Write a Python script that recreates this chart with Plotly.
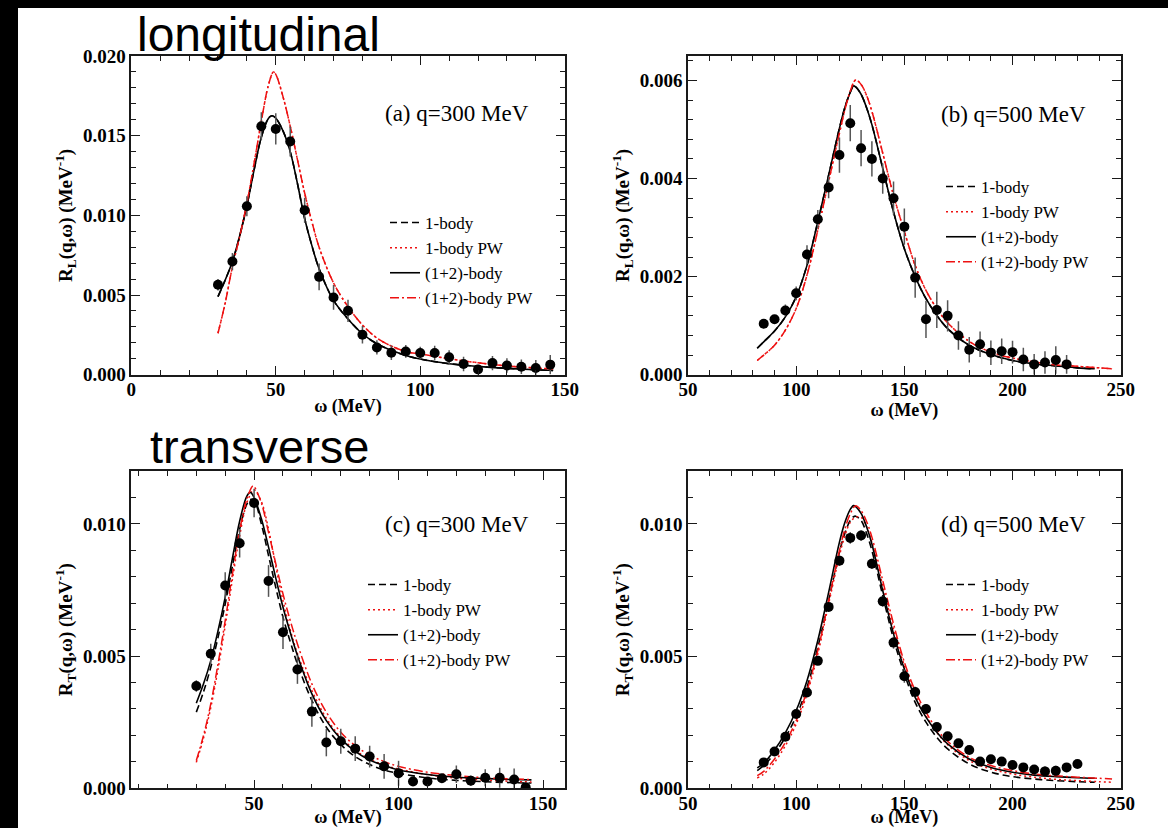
import plotly.graph_objects as go

W, H = 1168, 828

# ---------------- Panel (a): R_L, q = 300 MeV ----------------
a_omega = [30, 35, 40, 45, 50, 55, 60, 65, 70, 75, 80, 85, 90, 95, 100, 105, 110, 115, 120, 125, 130, 135, 140, 145]
a_R = [0.00564, 0.00710, 0.01057, 0.01559, 0.01542, 0.01463, 0.01032, 0.00614, 0.00485, 0.00401, 0.00251, 0.00171,
       0.00138, 0.00146, 0.00136, 0.00136, 0.00109, 0.00067, 0.00033, 0.00073, 0.00058, 0.00050, 0.00042, 0.00063]
a_err = [0.00036, 0.00054, 0.00063, 0.00088, 0.00098, 0.00094, 0.00078, 0.00084, 0.00078, 0.00070, 0.00055, 0.00045,
         0.00045, 0.00040, 0.00040, 0.00045, 0.00045, 0.00045, 0.00030, 0.00045, 0.00045, 0.00045, 0.00050, 0.00060]
a_th_omega = [30, 32.5, 35, 37.5, 40, 42.5, 45, 47.5, 48.7, 50, 52.5, 55, 57.5, 60, 62.5, 65, 70, 75, 80, 85, 90, 95,
              100, 110, 120, 130, 140, 146]
a_12body = [0.00490, 0.00594, 0.00710, 0.00870, 0.01060, 0.01285, 0.01490, 0.01610, 0.01625, 0.01610, 0.01530, 0.01400,
            0.01200, 0.00980, 0.00810, 0.00665, 0.00466, 0.00350, 0.00257, 0.00194, 0.00153, 0.00121, 0.00098, 0.00069,
            0.00052, 0.00040, 0.00031, 0.00027]
a_1body = a_12body  # identical in the longitudinal channel
a_pw_omega = [30, 32.5, 35, 37.5, 40, 42.5, 45, 47.5, 49.2, 50, 52.5, 55, 57.5, 60, 62.5, 65, 70, 75, 80, 85, 90, 95,
              100, 105, 110, 120, 130, 140, 146]
a_12body_pw = [0.00260, 0.00450, 0.00678, 0.00866, 0.01076, 0.01327, 0.01590, 0.01820, 0.01900, 0.01885, 0.01745,
               0.01560, 0.01350, 0.01140, 0.00960, 0.00800, 0.00576, 0.00427, 0.00312, 0.00230, 0.00180, 0.00146,
               0.00130, 0.00115, 0.00100, 0.00075, 0.00055, 0.00042, 0.00036]
a_1body_pw = a_12body_pw

# ---------------- Panel (b): R_L, q = 500 MeV ----------------
b_omega = [85, 90, 95, 100, 105, 110, 115, 120, 125, 130, 135, 140, 145, 150, 155, 160, 165, 170, 175, 180, 185, 190,
           195, 200, 205, 210, 215, 220, 225]
b_R = [0.00104, 0.00113, 0.00131, 0.00166, 0.00245, 0.00317, 0.00382, 0.00448, 0.00513, 0.00462, 0.00440, 0.00400,
       0.00360, 0.00302, 0.00198, 0.00113, 0.00132, 0.00120, 0.00080, 0.00051, 0.00062, 0.00045, 0.00048, 0.00046,
       0.00031, 0.00021, 0.00025, 0.00030, 0.00021]
b_err = [0.00005, 0.00005, 0.00012, 0.00014, 0.00019, 0.00019, 0.00022, 0.00036, 0.00037, 0.00037, 0.00036, 0.00031,
         0.00034, 0.00037, 0.00041, 0.00038, 0.00037, 0.00032, 0.00029, 0.00026, 0.00026, 0.00025, 0.00026, 0.00023,
         0.00024, 0.00021, 0.00023, 0.00028, 0.00019]
b_th_omega = [82, 85, 90, 95, 100, 105, 110, 115, 120, 122.5, 125, 126.5, 127.5, 130, 132.5, 135, 140, 145, 150, 155,
              160, 165, 170, 180, 190, 200, 210, 220, 230, 238]
b_12body = [0.00054, 0.00067, 0.00089, 0.00118, 0.00159, 0.00223, 0.00312, 0.00407, 0.00503, 0.00545, 0.00576,
            0.00589, 0.00587, 0.00572, 0.00545, 0.00510, 0.00421, 0.00332, 0.00257, 0.00200, 0.00155, 0.00121,
            0.00094, 0.00060, 0.00041, 0.00029, 0.00022, 0.00018, 0.00014, 0.00012]
b_1body = b_12body
b_pw_omega = [82, 85, 90, 95, 100, 105, 110, 115, 120, 122.5, 125, 127.5, 130, 132.5, 135, 140, 145, 150, 155, 160,
              165, 170, 180, 190, 200, 210, 220, 230, 240, 246]
b_12body_pw = [0.00029, 0.00040, 0.00060, 0.00091, 0.00135, 0.00203, 0.00295, 0.00394, 0.00493, 0.00540, 0.00578,
               0.00601, 0.00592, 0.00570, 0.00537, 0.00452, 0.00366, 0.00292, 0.00223, 0.00172, 0.00135, 0.00106,
               0.00068, 0.00046, 0.00034, 0.00026, 0.00020, 0.00017, 0.00014, 0.00012]
b_1body_pw = b_12body_pw

# ---------------- Panel (c): R_T, q = 300 MeV ----------------
c_omega = [30, 35, 40, 45, 50, 55, 60, 65, 70, 75, 80, 85, 90, 95, 100, 105, 110, 115, 120, 125, 130, 135, 140, 144]
c_R = [0.00387, 0.00509, 0.00767, 0.00927, 0.01079, 0.00784, 0.00590, 0.00449, 0.00290, 0.00173, 0.00178, 0.00150,
       0.00120, 0.00083, 0.00057, 0.00026, 0.00026, 0.00038, 0.00053, 0.00029, 0.00040, 0.00040, 0.00033, 0.00004]
c_err = [0.00022, 0.00038, 0.00050, 0.00054, 0.00054, 0.00060, 0.00063, 0.00054, 0.00057, 0.00052, 0.00047, 0.00047,
         0.00041, 0.00047, 0.00047, 0.00016, 0.00016, 0.00016, 0.00033, 0.00019, 0.00032, 0.00038, 0.00042, 0.00012]
c_th_omega = [30, 32.5, 35, 37.5, 40, 42.5, 45, 47.5, 48.7, 50, 52.5, 55, 57.5, 60, 62.5, 65, 70, 75, 80, 85, 90, 95,
              100, 110, 120, 130, 140, 146]
c_12body = [0.00322, 0.00395, 0.00483, 0.00595, 0.00723, 0.00870, 0.01010, 0.01105, 0.01119, 0.01100, 0.01020,
            0.00912, 0.00795, 0.00685, 0.00590, 0.00502, 0.00357, 0.00256, 0.00187, 0.00140, 0.00107, 0.00086,
            0.00069, 0.00052, 0.00042, 0.00037, 0.00033, 0.00032]
c_1body = [0.00288, 0.00365, 0.00458, 0.00570, 0.00697, 0.00840, 0.00980, 0.01075, 0.01092, 0.01088, 0.01000,
           0.00880, 0.00760, 0.00647, 0.00555, 0.00470, 0.00332, 0.00231, 0.00165, 0.00120, 0.00090, 0.00069,
           0.00057, 0.00039, 0.00030, 0.00025, 0.00021, 0.00020]
c_pw_omega = [30, 32.5, 35, 37.5, 40, 42.5, 45, 47.5, 49.6, 50, 52.5, 55, 57.5, 60, 62.5, 65, 70, 75, 80, 85, 90, 95,
              100, 110, 120, 130, 140, 146]
c_12body_pw = [0.00105, 0.00200, 0.00319, 0.00470, 0.00634, 0.00810, 0.00975, 0.01095, 0.01144, 0.01142, 0.01080,
               0.00968, 0.00850, 0.00735, 0.00635, 0.00546, 0.00395, 0.00288, 0.00212, 0.00161, 0.00126, 0.00101,
               0.00083, 0.00061, 0.00048, 0.00040, 0.00035, 0.00033]
c_1body_pw = [0.00098, 0.00190, 0.00305, 0.00450, 0.00615, 0.00790, 0.00955, 0.01080, 0.01128, 0.01130, 0.01085,
              0.00980, 0.00840, 0.00710, 0.00600, 0.00510, 0.00370, 0.00265, 0.00193, 0.00145, 0.00110, 0.00088,
              0.00073, 0.00052, 0.00038, 0.00031, 0.00026, 0.00024]

# ---------------- Panel (d): R_T, q = 500 MeV ----------------
d_omega = [85, 90, 95, 100, 105, 110, 115, 120, 125, 130, 135, 140, 145, 150, 155, 160, 165, 170, 175, 180, 185, 190,
           195, 200, 205, 210, 215, 220, 225, 230]
d_R = [0.00098, 0.00139, 0.00195, 0.00281, 0.00362, 0.00482, 0.00686, 0.00861, 0.00947, 0.00956, 0.00849, 0.00707,
       0.00551, 0.00424, 0.00364, 0.00300, 0.00232, 0.00197, 0.00170, 0.00145, 0.00101, 0.00110, 0.00101, 0.00088,
       0.00079, 0.00071, 0.00064, 0.00066, 0.00079, 0.00092]
d_err = [0.00010, 0.00010, 0.00012, 0.00012, 0.00012, 0.00013, 0.00016, 0.00019, 0.00022, 0.00020, 0.00019, 0.00020,
         0.00023, 0.00025, 0.00020, 0.00018, 0.00016, 0.00015, 0.00014, 0.00014, 0.00012, 0.00013, 0.00013, 0.00014,
         0.00015, 0.00017, 0.00019, 0.00019, 0.00012, 0.00012]
d_th_omega = [82, 85, 90, 95, 100, 105, 110, 115, 120, 122.5, 125, 126.5, 127.5, 130, 132.5, 135, 140, 145, 150, 155,
              160, 165, 170, 180, 190, 200, 210, 220, 230, 238]
d_12body = [0.00077, 0.00095, 0.00145, 0.00210, 0.00294, 0.00407, 0.00559, 0.00741, 0.00931, 0.01005, 0.01055,
            0.01069, 0.01065, 0.01040, 0.00990, 0.00924, 0.00748, 0.00584, 0.00451, 0.00344, 0.00269, 0.00212,
            0.00168, 0.00111, 0.00079, 0.00061, 0.00050, 0.00044, 0.00040, 0.00038]
d_1body = [0.00067, 0.00086, 0.00132, 0.00193, 0.00272, 0.00382, 0.00533, 0.00710, 0.00893, 0.00965, 0.01013,
           0.01027, 0.01029, 0.01013, 0.00965, 0.00899, 0.00729, 0.00565, 0.00433, 0.00325, 0.00250, 0.00193,
           0.00149, 0.00092, 0.00061, 0.00044, 0.00035, 0.00029, 0.00025, 0.00023]
d_pw_omega = [82, 85, 90, 95, 100, 105, 110, 115, 120, 122.5, 125, 127.5, 130, 132.5, 135, 140, 145, 150, 155, 160,
              165, 170, 180, 190, 200, 210, 220, 230, 240, 246]
d_12body_pw = [0.00048, 0.00064, 0.00111, 0.00174, 0.00256, 0.00370, 0.00521, 0.00710, 0.00899, 0.00980, 0.01038,
               0.01069, 0.01050, 0.01010, 0.00950, 0.00786, 0.00622, 0.00477, 0.00369, 0.00288, 0.00224, 0.00178,
               0.00117, 0.00086, 0.00067, 0.00054, 0.00047, 0.00042, 0.00038, 0.00035]
d_1body_pw = [0.00039, 0.00054, 0.00098, 0.00161, 0.00243, 0.00357, 0.00508, 0.00697, 0.00880, 0.00955, 0.01006,
              0.01025, 0.01025, 0.00990, 0.00930, 0.00767, 0.00603, 0.00464, 0.00357, 0.00275, 0.00212, 0.00165,
              0.00105, 0.00073, 0.00054, 0.00042, 0.00034, 0.00029, 0.00025, 0.00023]

legend_names = ["1-body", "1-body PW", "(1+2)-body", "(1+2)-body PW"]
panel_labels = ["(a) q=300 MeV", "(b) q=500 MeV", "(c) q=300 MeV", "(d) q=500 MeV"]

SERIF = "Liberation Serif"
SANS = "Liberation Sans"
RED = "#ee1111"

panels = [
    dict(ax="", data=(a_omega, a_R, a_err), th=(a_th_omega, a_1body, a_12body), pw=(a_pw_omega, a_1body_pw, a_12body_pw)),
    dict(ax="2", data=(b_omega, b_R, b_err), th=(b_th_omega, b_1body, b_12body), pw=(b_pw_omega, b_1body_pw, b_12body_pw)),
    dict(ax="3", data=(c_omega, c_R, c_err), th=(c_th_omega, c_1body, c_12body), pw=(c_pw_omega, c_1body_pw, c_12body_pw)),
    dict(ax="4", data=(d_omega, d_R, d_err), th=(d_th_omega, d_1body, d_12body), pw=(d_pw_omega, d_1body_pw, d_12body_pw)),
]

fig = go.Figure()
for i, p in enumerate(panels):
    xa, ya = "x" + p["ax"], "y" + p["ax"]
    leg = "legend" + p["ax"]
    th_x, th_1, th_12 = p["th"]
    pw_x, pw_1, pw_12 = p["pw"]
    common = dict(xaxis=xa, yaxis=ya, mode="lines", line_shape="spline", legend=leg)
    fig.add_trace(go.Scatter(x=th_x, y=th_1, name=legend_names[0],
                             line=dict(color="black", width=1.6, dash="7px,4px"), **common))
    fig.add_trace(go.Scatter(x=pw_x, y=pw_1, name=legend_names[1],
                             line=dict(color=RED, width=1.5, dash="2px,3px"), **common))
    fig.add_trace(go.Scatter(x=th_x, y=th_12, name=legend_names[2],
                             line=dict(color="black", width=1.6), **common))
    fig.add_trace(go.Scatter(x=pw_x, y=pw_12, name=legend_names[3],
                             line=dict(color=RED, width=1.5, dash="9px,3px,2px,3px"), **common))
    ox, oy, oe = p["data"]
    fig.add_trace(go.Scatter(x=ox, y=oy, xaxis=xa, yaxis=ya, mode="markers", showlegend=False,
                             marker=dict(color="black", size=10),
                             error_y=dict(type="data", array=oe, visible=True, color="#555555",
                                          thickness=1.5, width=0)))


def px_x(v):
    return v / W


def px_y(v):
    return 1 - v / H


tickfont = dict(family=SERIF, size=19, color="black", weight="bold")
titlefont = dict(family=SERIF, size=19, color="black", weight="bold")


def xaxis(dom, rng, minor_dt, anchor, standoff):
    return dict(domain=dom, range=rng, anchor=anchor, tick0=0, dtick=50,
                showline=True, linecolor="#1a1a1a", linewidth=1.6, mirror="allticks",
                ticks="inside", ticklen=9, tickwidth=1.4, tickcolor="#1a1a1a",
                showgrid=False, zeroline=False, tickfont=tickfont, ticklabelstandoff=-3,
                minor=dict(ticks="inside", ticklen=5, tickwidth=1.2, tickcolor="#1a1a1a", dtick=minor_dt,
                           tick0=0, showgrid=False),
                title=dict(text="ω (MeV)", font=dict(family=SERIF, size=18, color="black", weight="bold"),
                           standoff=standoff), automargin=False)


def yaxis(dom, rng, dt, minor_dt, anchor, sub):
    return dict(domain=dom, range=rng, anchor=anchor, tick0=0, dtick=dt, tickformat=".3f",
                showline=True, linecolor="#1a1a1a", linewidth=1.6, mirror="allticks",
                ticks="inside", ticklen=9, tickwidth=1.4, tickcolor="#1a1a1a",
                showgrid=False, zeroline=False, tickfont=tickfont,
                minor=dict(ticks="inside", ticklen=5, tickwidth=1.2, tickcolor="#1a1a1a", dtick=minor_dt,
                           tick0=0, showgrid=False),
                title=dict(text="R<sub>" + sub + "</sub>(q,ω) (MeV<sup>-1</sup>)", font=titlefont, standoff=5),
                automargin=False)


dx_left = [px_x(131.3), px_x(564.7)]
dx_right = [px_x(688.0), px_x(1120.7)]
dy_top = [px_y(374.7), px_y(56.0)]
dy_bot = [px_y(788.3), px_y(471.0)]
eps = 1e-9

fig.update_layout(
    width=W, height=H,
    margin=dict(l=0, r=0, t=0, b=0),
    paper_bgcolor="white", plot_bgcolor="white",
    xaxis=xaxis(dx_left, [0, 150 + 1e-6], 10, "y", 0),
    yaxis=yaxis(dy_top, [0, 0.020 + eps], 0.005, 0.001, "x", "L"),
    xaxis2=xaxis(dx_right, [50 - 1e-6, 250 + 1e-6], 10, "y2", 0),
    yaxis2=yaxis(dy_top, [0, 0.0065], 0.002, 0.0004, "x2", "L"),
    xaxis3=xaxis(dx_left, [7.5, 157.5], 10, "y3", 2),
    yaxis3=yaxis(dy_bot, [0, 0.012], 0.005, 0.001, "x3", "T"),
    xaxis4=xaxis(dx_right, [50 - 1e-6, 250 + 1e-6], 10, "y4", 2),
    yaxis4=yaxis(dy_bot, [0, 0.012], 0.005, 0.001, "x4", "T"),
    showlegend=True,
)

legend_font = dict(family=SERIF, size=17, color="black")
leg_pos = {"legend": (385, 205), "legend2": (941, 169), "legend3": (363, 567), "legend4": (941, 567)}
for k, (lx, ly) in leg_pos.items():
    fig.update_layout({k: dict(x=px_x(lx), y=px_y(ly), xanchor="left", yanchor="top", font=legend_font,
                               bgcolor="rgba(0,0,0,0)", borderwidth=0, itemwidth=30,
                               traceorder="normal")})

ann_pos = [(383, 114), (939, 115), (383, 524.7), (939, 524.7)]
annotations = []
for lab, (ax_, ay_) in zip(panel_labels, ann_pos):
    annotations.append(dict(text=lab, x=px_x(ax_), y=px_y(ay_), xref="paper", yref="paper",
                            xanchor="left", yanchor="middle", showarrow=False,
                            font=dict(family=SERIF, size=23, color="black")))
annotations.append(dict(text="longitudinal", x=px_x(135), y=px_y(35), xref="paper", yref="paper",
                        xanchor="left", yanchor="middle", showarrow=False,
                        font=dict(family=SANS, size=48, color="black")))
annotations.append(dict(text="transverse", x=px_x(148), y=px_y(447), xref="paper", yref="paper",
                        xanchor="left", yanchor="middle", showarrow=False,
                        font=dict(family=SANS, size=47, color="black")))
fig.update_layout(annotations=annotations)

# black frame strips of the original screenshot (top and left)
fig.update_layout(shapes=[
    dict(type="rect", xref="paper", yref="paper", x0=0, x1=px_x(18), y0=0, y1=1,
         fillcolor="black", line=dict(width=0), layer="above"),
    dict(type="rect", xref="paper", yref="paper", x0=0, x1=1, y0=px_y(8), y1=1,
         fillcolor="black", line=dict(width=0), layer="above"),
])

fig.write_html("out.html")
